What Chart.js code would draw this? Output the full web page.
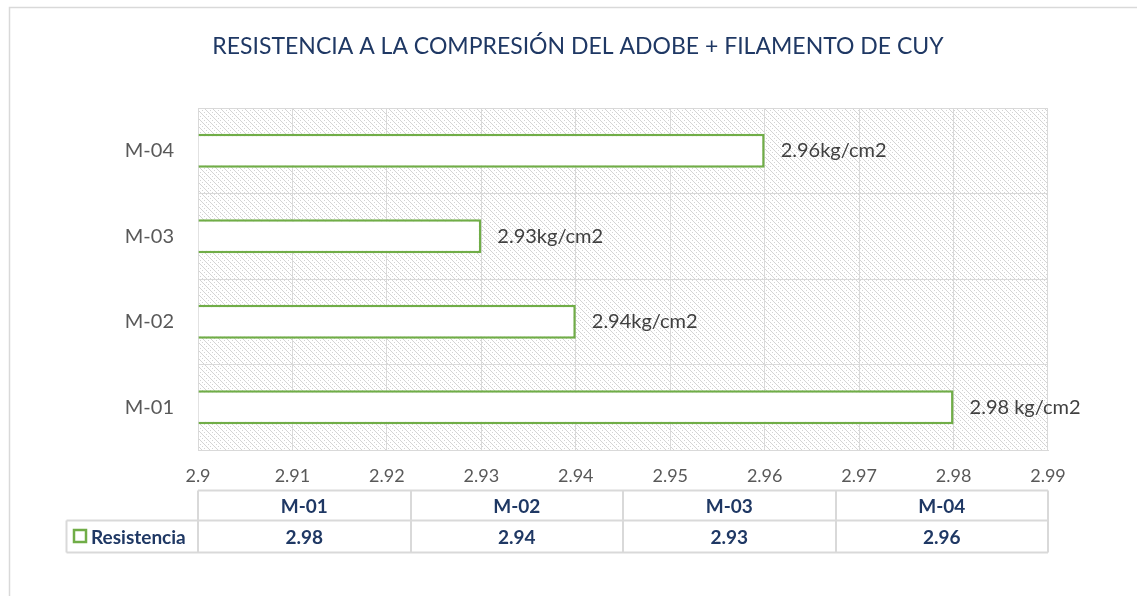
<!DOCTYPE html>
<html><head><meta charset="utf-8">
<script src="https://cdn.jsdelivr.net/npm/chart.js@4.4.0/dist/chart.umd.min.js"></script>
<style>html,body{margin:0;padding:0;background:#fff;}#wrap{width:1137px;height:596px;position:relative;}</style>
</head><body><div id="wrap"><canvas id="c" width="1137" height="596"></canvas></div>
<script>
const categories = ['M-04', 'M-03', 'M-02', 'M-01'];
const resistencia = [2.96, 2.93, 2.94, 2.98];
const dataLabels = ['2.96kg/cm2', '2.93kg/cm2', '2.94kg/cm2', '2.98 kg/cm2'];
const tableCategories = ['M-01', 'M-02', 'M-03', 'M-04'];
const tableValues = ['2.98', '2.94', '2.93', '2.96'];
const seriesName = 'Resistencia';
const chartTitle = 'RESISTENCIA A LA COMPRESIÓN DEL ADOBE + FILAMENTO DE CUY';

const FONT = 'Lato';
const NAVY = '#1f3864';
const GREEN = '#70ad47';
const GRID = '#d9d9d9';

function makePattern(ctx) {
  const t = document.createElement('canvas');
  t.width = 8; t.height = 8;
  const g = t.getContext('2d');
  g.fillStyle = '#ffffff'; g.fillRect(0, 0, 8, 8);
  g.fillStyle = '#d4d4d4';
  for (let y = 0; y < 8; y++) {
    g.fillRect(y % 8, y, 1, 1);
    if (y % 2 === 0) g.fillRect((y + 4) % 8, y, 1, 1);
  }
  return ctx.createPattern(t, 'repeat');
}

const decor = {
  id: 'decor',
  beforeDraw(chart) {
    const ctx = chart.ctx;
    const a = chart.chartArea;
    ctx.save();
    ctx.fillStyle = '#fff';
    ctx.fillRect(0, 0, chart.width, chart.height);
    ctx.strokeStyle = GRID; ctx.lineWidth = 1.5;
    ctx.beginPath();
    ctx.moveTo(9.5, 600); ctx.lineTo(9.5, 7.5); ctx.lineTo(1137, 7.5);
    ctx.stroke();
    ctx.fillStyle = makePattern(ctx);
    ctx.fillRect(a.left, a.top, a.right - a.left, a.bottom - a.top);
    // title
    ctx.fillStyle = NAVY;
    ctx.font = '23px ' + FONT;
    ctx.textAlign = 'center';
    ctx.textBaseline = 'middle';
    ctx.fillText(chartTitle, 578, 47);
    ctx.restore();
  },
  afterDraw(chart) {
    const ctx = chart.ctx;
    const x = chart.scales.x;
    const meta = chart.getDatasetMeta(0);
    ctx.save();
    // data labels
    ctx.font = '20px ' + FONT;
    ctx.fillStyle = '#404040';
    ctx.textBaseline = 'middle';
    ctx.textAlign = 'left';
    meta.data.forEach((bar, i) => {
      ctx.fillText(dataLabels[i], bar.x + 16, bar.y);
    });
    // data table
    const left = x.left, right = x.right;
    const colW = (right - left) / tableCategories.length;
    const r0 = 490.5, r1 = 520.5, r2 = 552.5, lx = 66.5;
    ctx.strokeStyle = GRID; ctx.lineWidth = 2;
    ctx.beginPath();
    ctx.moveTo(left, r0); ctx.lineTo(right, r0);
    ctx.moveTo(lx, r1); ctx.lineTo(right, r1);
    ctx.moveTo(lx, r2); ctx.lineTo(right, r2);
    ctx.moveTo(lx, r1); ctx.lineTo(lx, r2);
    for (let i = 0; i <= tableCategories.length; i++) {
      const cx = Math.round(left + i * colW);
      ctx.moveTo(cx, r0); ctx.lineTo(cx, r2);
    }
    ctx.stroke();
    ctx.fillStyle = NAVY;
    ctx.font = 'bold 19px ' + FONT;
    ctx.textAlign = 'center';
    tableCategories.forEach((c, i) => {
      const cx = left + (i + 0.5) * colW;
      ctx.fillText(c, cx, (r0 + r1) / 2 + 1);
      ctx.fillText(tableValues[i], cx, (r1 + r2) / 2 + 1);
    });
    ctx.textAlign = 'left';
    ctx.fillText(seriesName, 91, (r1 + r2) / 2 + 1);
    ctx.strokeStyle = GREEN; ctx.lineWidth = 2.5;
    ctx.strokeRect(74, 530, 12, 12);
    ctx.restore();
  }
};

new Chart(document.getElementById('c'), {
  type: 'bar',
  data: {
    labels: categories,
    datasets: [{
      label: seriesName,
      data: resistencia,
      backgroundColor: '#ffffff',
      borderColor: GREEN,
      borderWidth: 2.5,
      borderSkipped: 'start',
      barPercentage: 0.8,
      categoryPercentage: 0.5,
      base: 2.9
    }]
  },
  options: {
    indexAxis: 'y',
    responsive: false,
    animation: false,
    devicePixelRatio: 1,
    layout: { padding: { left: 0, right: 89, top: 108, bottom: 0 } },
    plugins: {
      legend: { display: false },
      tooltip: { enabled: false },
      title: { display: false }
    },
    scales: {
      x: {
        min: 2.9, max: 2.99,
        afterBuildTicks(s) {
          s.ticks = [];
          for (let i = 0; i <= 9; i++) s.ticks.push({ value: 2.9 + i * 0.01 });
        },
        afterFit(s) { s.height = 146; },
        grid: { color: GRID, lineWidth: 1, drawTicks: false },
        border: { display: true, color: GRID },
        ticks: {
          color: '#595959', padding: 15,
          font: { family: FONT, size: 18 },
          callback: (v) => String(Math.round(v * 100) / 100)
        }
      },
      y: {
        afterFit(s) { s.width = 198; },
        grid: { color: GRID, lineWidth: 1, offset: true, drawTicks: false },
        border: { display: true, color: GRID },
        ticks: { color: '#595959', padding: 24, font: { family: FONT, size: 20 } }
      }
    }
  },
  plugins: [decor]
});
</script></body></html>
